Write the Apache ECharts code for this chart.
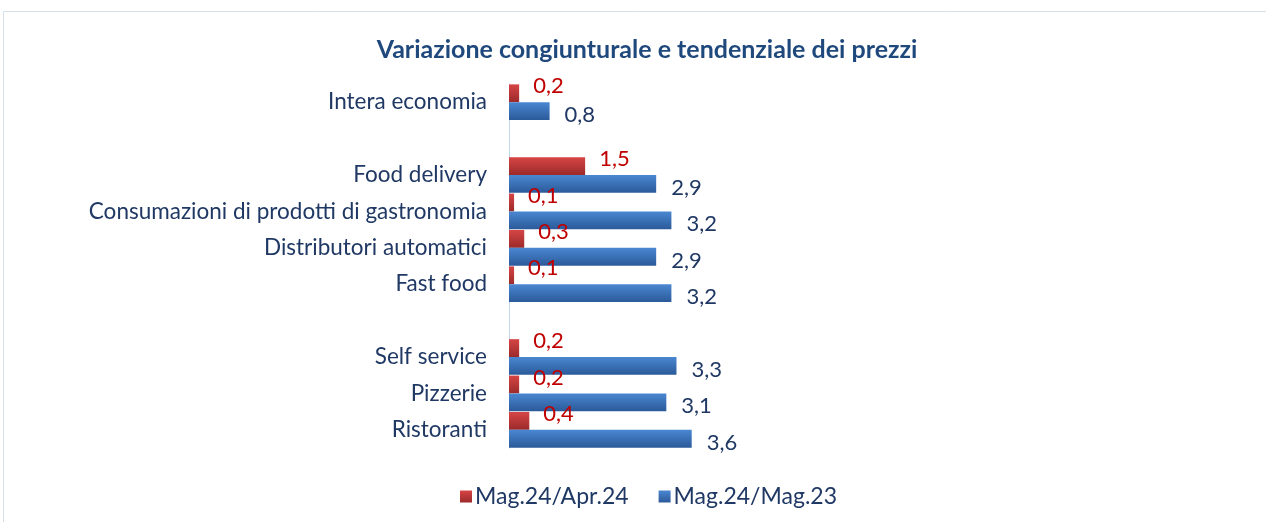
<!DOCTYPE html>
<html>
<head>
<meta charset="utf-8">
<script src="https://cdn.jsdelivr.net/npm/echarts@6/dist/echarts.min.js"></script>
<style>
html, body { margin: 0; padding: 0; background: #fff; }
#container { width: 1266px; height: 522px; }
</style>
</head>
<body>
<div id="container"></div>
<script>
// categories top to bottom, empty strings are the gaps between groups
var categories = ["Intera economia", "", "Food delivery", "Consumazioni di prodotti di gastronomia",
  "Distributori automatici", "Fast food", "", "Self service", "Pizzerie", "Ristoranti"];
var congiunturale = [0.2, null, 1.5, 0.1, 0.3, 0.1, null, 0.2, 0.2, 0.4];
var tendenziale = [0.8, null, 2.9, 3.2, 2.9, 3.2, null, 3.3, 3.1, 3.6];
var seriesNames = ["Mag.24/Apr.24", "Mag.24/Mag.23"];

var font = "Lato";
function comma(p) { return String(p.value).replace(".", ","); }
function grad(top, bottom) {
  return new echarts.graphic.LinearGradient(0, 0, 0, 1, [
    { offset: 0, color: top }, { offset: 1, color: bottom }
  ]);
}

var myChart = echarts.init(document.getElementById("container"));
var option = {
  animation: false,
  title: {
    text: "Variazione congiunturale e tendenziale dei prezzi",
    left: 642, top: 32, textAlign: "center",
    textStyle: { fontFamily: font, fontSize: 25, fontWeight: "bold", color: "#1f497d" }
  },
  graphic: [{
    type: "rect", shape: { x: 3.5, y: 11.5, width: 1270, height: 520 },
    style: { fill: null, stroke: "#d6dfec", lineWidth: 1 }, silent: true
  }],
  legend: {
    left: 455, top: 480, itemWidth: 12, itemHeight: 12, itemGap: 30,
    icon: "rect",
    textStyle: { fontFamily: font, fontSize: 23, color: "#1f3864", padding: [0, 0, 0, -2] },
    data: seriesNames
  },
  grid: { left: 509, top: 84, width: 203, height: 364 },
  xAxis: { type: "value", min: 0, max: 4, show: false },
  yAxis: {
    type: "category", data: categories, inverse: true,
    axisLine: { show: true, lineStyle: { color: "#c5d5ea", width: 1 } },
    axisTick: { show: false },
    axisLabel: { margin: 22, fontFamily: font, fontSize: 22.5, color: "#1f3864" }
  },
  series: [{
    name: seriesNames[0], type: "bar", data: congiunturale,
    barGap: "0%", barCategoryGap: "2%",
    itemStyle: { color: grad("#d64545", "#9c2a2a") },
    label: { show: true, position: "right", distance: 14, offset: [0, -7], formatter: comma,
      fontFamily: font, fontSize: 22, color: "#c00000" }
  }, {
    name: seriesNames[1], type: "bar", data: tendenziale,
    itemStyle: { color: grad("#4a87d2", "#2b5a99") },
    label: { show: true, position: "right", distance: 15, offset: [0, 4], formatter: comma,
      fontFamily: font, fontSize: 22, color: "#1f3864" }
  }]
};
option && myChart.setOption(option);
</script>
</body>
</html>
